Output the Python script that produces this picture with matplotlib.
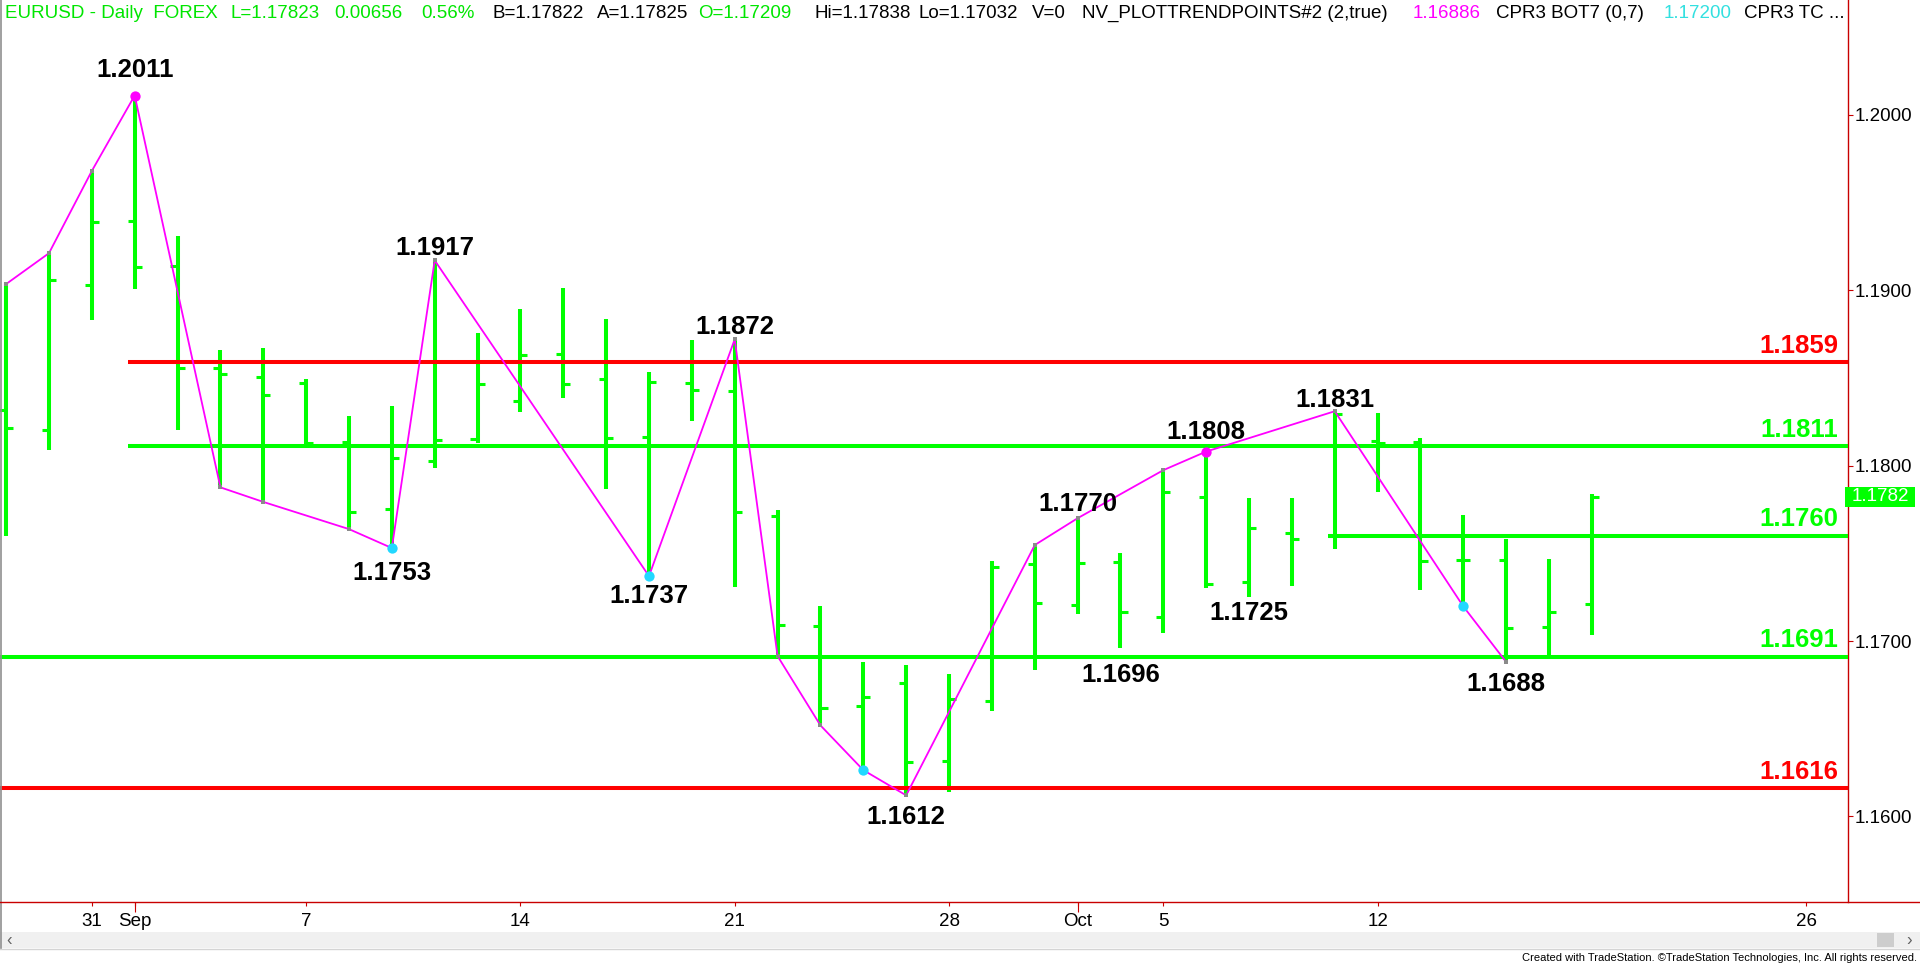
import matplotlib
matplotlib.use("Agg")
import matplotlib.pyplot as plt
from matplotlib import font_manager
from matplotlib.lines import Line2D
from matplotlib.patches import Rectangle
import matplotlib.transforms as mtransforms

# ---------------- data ----------------
dates = ['Aug 27', 'Aug 28', 'Aug 31', 'Sep 1', 'Sep 2', 'Sep 3', 'Sep 4',
         'Sep 7', 'Sep 8', 'Sep 9', 'Sep 10', 'Sep 11', 'Sep 14', 'Sep 15',
         'Sep 16', 'Sep 17', 'Sep 18', 'Sep 21', 'Sep 22', 'Sep 23', 'Sep 24',
         'Sep 25', 'Sep 28', 'Sep 29', 'Sep 30', 'Oct 1', 'Oct 2', 'Oct 5',
         'Oct 6', 'Oct 7', 'Oct 8', 'Oct 9', 'Oct 12', 'Oct 13', 'Oct 14',
         'Oct 15', 'Oct 16', 'Oct 19']
future_sessions = ['Oct 20', 'Oct 21', 'Oct 22', 'Oct 23', 'Oct 26', 'Oct 27']

opens = [1.18315, 1.18201, 1.19027, 1.19395, 1.19138, 1.18555, 1.18503,
         1.18470, 1.18135, 1.17752, 1.18027, 1.18154, 1.18370, 1.18637,
         1.18492, 1.18164, 1.18470, 1.18425, 1.17711, 1.17085, 1.16631,
         1.16763, 1.16315, 1.16660, 1.17437, 1.17206, 1.17452, 1.17136,
         1.17822, 1.17335, 1.17613, 1.17598, 1.18138, 1.18132, 1.17463,
         1.17463, 1.17082, 1.17209]
highs = [1.19035, 1.19211, 1.19680, 1.20110, 1.19310, 1.18658, 1.18671,
         1.18491, 1.18280, 1.18338, 1.19170, 1.18755, 1.18890, 1.19012,
         1.18833, 1.18535, 1.18714, 1.18720, 1.17746, 1.17200, 1.16882,
         1.16863, 1.16814, 1.17458, 1.17547, 1.17700, 1.17500, 1.17974,
         1.18080, 1.17818, 1.17818, 1.18310, 1.18301, 1.18160, 1.17716,
         1.17583, 1.17469, 1.17838]
lows = [1.17597, 1.18089, 1.18828, 1.19008, 1.18203, 1.17876, 1.17793,
        1.18118, 1.17638, 1.17530, 1.17986, 1.18129, 1.18307, 1.18388,
        1.17868, 1.17370, 1.18256, 1.17308, 1.16914, 1.16519, 1.16264,
        1.16120, 1.16140, 1.16600, 1.16837, 1.17155, 1.16960, 1.17045,
        1.17305, 1.17250, 1.17316, 1.17524, 1.17850, 1.17292, 1.17197,
        1.16880, 1.16909, 1.17032]
closes = [1.18213, 1.19060, 1.19389, 1.19134, 1.18555, 1.18524, 1.18400,
          1.18129, 1.17738, 1.18042, 1.18145, 1.18464, 1.18631, 1.18464,
          1.18158, 1.18476, 1.18431, 1.17734, 1.17094, 1.16617, 1.16680,
          1.16309, 1.16670, 1.17420, 1.17216, 1.17447, 1.17164, 1.17850,
          1.17324, 1.17642, 1.17579, 1.18292, 1.18131, 1.17458, 1.17463,
          1.17073, 1.17164, 1.17823]

levels = [1.1859, 1.1811, 1.1760, 1.1691, 1.1616]
level_roles = ['resistance', 'pivot', 'pivot', 'pivot', 'support']
level_start = ['Sep 1', 'Sep 1', 'Oct 9', None, None]

pivot_dates = ['Aug 27', 'Aug 28', 'Aug 31', 'Sep 1', 'Sep 3', 'Sep 4', 'Sep 8',
               'Sep 9', 'Sep 10', 'Sep 17', 'Sep 21', 'Sep 22', 'Sep 23',
               'Sep 24', 'Sep 25', 'Sep 30', 'Oct 1', 'Oct 5', 'Oct 6', 'Oct 9',
               'Oct 14', 'Oct 15']
pivot_side = 'HHHHLLLLHLHLLLLHHHHHLL'
high_dot_dates = ['Sep 1', 'Oct 6']
low_dot_dates = ['Sep 9', 'Sep 17', 'Sep 24', 'Oct 14']

label_dates = ['Sep 1', 'Sep 10', 'Sep 9', 'Sep 17', 'Sep 21', 'Sep 25',
               'Oct 1', 'Oct 2', 'Oct 6', 'Oct 7', 'Oct 9', 'Oct 15']
label_side = 'HHLLHLHLHLHL'

tick_dates = ['Aug 31', 'Sep 1', 'Sep 7', 'Sep 14', 'Sep 21', 'Sep 28',
              'Oct 1', 'Oct 5', 'Oct 12', 'Oct 26']
tick_text = ['31', 'Sep', '7', '14', '21', '28', 'Oct', '5', '12', '26']
month_tick_dates = ['Sep 1', 'Oct 1']
price_ticks = [1.16, 1.17, 1.18, 1.19, 1.20]

header = [("EURUSD - Daily  FOREX", 'g'), ("L=1.17823", 'g'), ("0.00656", 'g'),
          ("0.56%", 'g'), ("B=1.17822", 'k'), ("A=1.17825", 'k'),
          ("O=1.17209", 'g'), ("Hi=1.17838", 'k'), ("Lo=1.17032", 'k'),
          ("V=0", 'k'), ("NV_PLOTTRENDPOINTS#2 (2,true)", 'k'),
          ("1.16886", 'm'), ("CPR3 BOT7 (0,7)", 'k'), ("1.17200", 'c'),
          ("CPR3 TC ...", 'k')]

# ---------------- style ----------------
W, H = 1920, 963
GREEN = '#00FF00'
RED = '#FF0000'
AXRED = '#C80000'
MAGENTA = '#FF00FF'
CYAN = '#22D8FF'
colmap = {'g': '#00E600', 'k': '#000000', 'm': '#FF00FF', 'c': '#33E0E0'}
role_col = {'resistance': RED, 'support': RED, 'pivot': GREEN}


def has_font(name):
    try:
        font_manager.findfont(name, fallback_to_default=False)
        return True
    except Exception:
        return False


BASE = 'Liberation Sans' if has_font('Liberation Sans') else 'DejaVu Sans'
NARROW = 'Liberation Sans Narrow' if has_font('Liberation Sans Narrow') else BASE
plt.rcParams['font.family'] = [BASE, 'DejaVu Sans']

sessions = dates + future_sessions
pos = {d: i for i, d in enumerate(sessions)}

fig = plt.figure(figsize=(W / 100, H / 100), dpi=100)
fig.patch.set_facecolor('white')

ax_left, ax_right, ax_top, ax_bottom = 0, 1848, 0, 902
ax = fig.add_axes([ax_left / W, (H - ax_bottom) / H,
                   (ax_right - ax_left) / W, (ax_bottom - ax_top) / H])
ax.set_facecolor('white')

bar_px = 42.86
x0_px = 6.1
ax.set_xlim(-x0_px / bar_px, (ax_right - x0_px) / bar_px)
ppu = 17540.0
ax.set_ylim(1.17 - (ax_bottom - 641) / ppu, 1.17 + 641 / ppu)

xs = list(range(len(dates)))
tick_len = 0.165
ax.vlines(xs, lows, highs, color=GREEN, lw=2.9, zorder=2)
ax.hlines(opens, [x - tick_len for x in xs], xs, color=GREEN, lw=2.2, zorder=2)
ax.hlines(closes, xs, [x + tick_len for x in xs], color=GREEN, lw=2.2, zorder=2)

xmin, xmax = ax.get_xlim()
for lev, role, start in zip(levels, level_roles, level_start):
    xs0 = xmin if start is None else pos[start] - 0.15
    ax.hlines(lev, xs0, xmax, color=role_col[role], lw=2.9, zorder=3)
    ax.annotate(f"{lev:.4f}", xy=(1838 / 1848, lev),
                xycoords=mtransforms.blended_transform_factory(ax.transAxes, ax.transData),
                xytext=(0, 9.5 * 0.72), textcoords='offset points',
                ha='right', va='baseline', fontsize=18.5, fontweight='bold',
                color=role_col[role], zorder=7)

pv_x = [pos[d] for d in pivot_dates]
pv_y = [highs[pos[d]] if s == 'H' else lows[pos[d]] for d, s in zip(pivot_dates, pivot_side)]
ax.plot(pv_x, pv_y, color=MAGENTA, lw=1.3, zorder=4)
ax.scatter(pv_x, pv_y, s=7, color='#8a8a8a', marker='s', zorder=5, linewidths=0)
ax.scatter([pos[d] for d in high_dot_dates], [highs[pos[d]] for d in high_dot_dates],
           s=55, color=MAGENTA, zorder=6, linewidths=0)
ax.scatter([pos[d] for d in low_dot_dates], [lows[pos[d]] for d in low_dot_dates],
           s=55, color=CYAN, zorder=6, linewidths=0)

# label offsets in px (baseline relative to pivot)
label_offset_px = {'Sep 1': 19, 'Sep 10': 5, 'Sep 9': -32, 'Sep 17': -26.5,
                   'Sep 21': 5, 'Sep 25': -29, 'Oct 1': 7, 'Oct 2': -34,
                   'Oct 6': 13, 'Oct 7': -23, 'Oct 9': 4, 'Oct 15': -28.6}
for d, s in zip(label_dates, label_side):
    i = pos[d]
    v = highs[i] if s == 'H' else lows[i]
    ax.annotate(f"{v:.4f}", xy=(i, v), xytext=(0, label_offset_px[d] * 0.72),
                textcoords='offset points', ha='center', va='baseline',
                fontsize=18.5, fontweight='bold', color='black', zorder=7)

# axes styling
for sp in ['left', 'top', 'bottom']:
    ax.spines[sp].set_visible(False)
ax.spines['right'].set_color(AXRED)
ax.spines['right'].set_linewidth(1.0)
ax.yaxis.tick_right()
ax.set_yticks(price_ticks)
ax.set_yticklabels([f"{p:.4f}" for p in price_ticks])
ax.tick_params(axis='y', which='major', direction='out', length=3.6, width=0.8,
               color=AXRED, pad=1.0, labelsize=13.5, labelcolor='black')

ax.xaxis.remove_overlapping_locs = False
ax.set_xticks([pos[d] for d in tick_dates])
ax.set_xticklabels(tick_text)
ax.set_xticks([pos[d] for d in month_tick_dates], minor=True)
ax.tick_params(axis='x', which='major', direction='out', length=3.1, width=0.8,
               color=AXRED, pad=4.6, labelsize=13.5, labelcolor='black')
ax.tick_params(axis='x', which='minor', direction='out', length=7.2, width=0.8,
               color=AXRED)

# bottom axis line across full width
fig.add_artist(Line2D([0, 1], [(H - ax_bottom) / H] * 2, transform=fig.transFigure,
                      color=AXRED, lw=1.0, zorder=10))

# price box on the right axis
last = closes[-1]
fig.canvas.draw()
ypx = ax.transData.transform((0, last))[1]
fig.add_artist(Rectangle((1845 / W, (ypx - 10) / H), 70 / W, 20 / H,
                         transform=fig.transFigure, facecolor=GREEN,
                         edgecolor='none', zorder=10))
fig.text(1880 / W, ypx / H, f"{last:.4f}", color='white', fontsize=13.5,
         ha='center', va='center', zorder=11)

# header
header_x = [5, 230, 334, 421, 493, 597, 698, 814, 918, 1032, 1082, 1413, 1496,
            1664, 1744]
for (txt, c), xp in zip(header, header_x):
    fig.text(xp / W, 1 - 13.5 / H, txt, color=colmap[c], fontsize=13.5,
             ha='left', va='center', family=BASE)

# scroll bar and footer
fig.add_artist(Rectangle((0, (H - 948) / H), 1, 16 / H, transform=fig.transFigure,
                         facecolor='#F0F0F0', edgecolor='none', zorder=1))
fig.add_artist(Line2D([0, 1], [(H - 948.5) / H] * 2, transform=fig.transFigure,
                      color='#D4D4D4', lw=1))
fig.add_artist(Rectangle((1877 / W, (H - 947) / H), 17 / W, 14 / H,
                         transform=fig.transFigure, facecolor='#CDCDCD',
                         edgecolor='none', zorder=2))
fig.text(9 / W, 1 - 940 / H, '‹', fontsize=12, color='#606060', ha='center', va='center')
fig.text(1909 / W, 1 - 940 / H, '›', fontsize=12, color='#606060', ha='center', va='center')
fig.add_artist(Line2D([1 / W, 1 / W], [(H - 948) / H, 1], transform=fig.transFigure,
                      color='#909090', lw=1.2))
fig.text(1917 / W, 1 - 958 / H,
         'Created with TradeStation. ©TradeStation Technologies, Inc. All rights reserved.',
         fontsize=8, color='black', ha='right', va='center',
         family=[NARROW, BASE] if NARROW != BASE else BASE)

fig.savefig('out.png', dpi=100, facecolor='white')
